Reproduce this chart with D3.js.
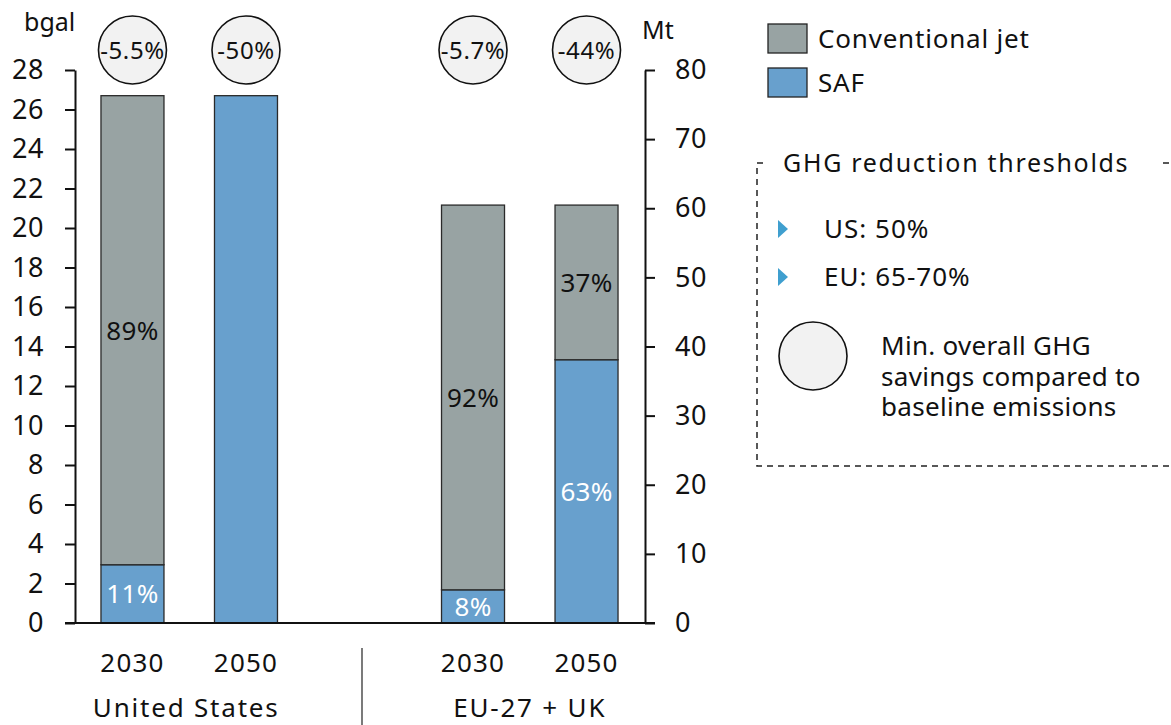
<!DOCTYPE html>
<html><head><meta charset="utf-8">
<script src="https://cdn.jsdelivr.net/npm/d3@7"></script>
<style>
body{margin:0;background:#fff;}
text{font-family:"Noto Sans",sans-serif;fill:#111;}
</style></head>
<body><svg id="c" width="1171" height="725"></svg>
<script>
const slots = ["US2030","US2050","gap","EU2030","EU2050"];
const years = ["2030","2050","2030","2050"];
const barKeys = ["US2030","US2050","EU2030","EU2050"];
const regions = ["United States","EU-27 + UK"];
const saf = [2.95, 26.7, 1.68, 13.33];
const conventional = [23.75, 0, 19.48, 7.83];
const safLabels = ["11%", "", "8%", "63%"];
const convLabels = ["89%", "", "92%", "37%"];
const ghgSavings = ["-5.5%","-50%","-5.7%","-44%"];
const leftTicks = d3.range(0, 29, 2);
const rightTicks = d3.range(0, 81, 10);
const thresholds = ["US: 50%", "EU: 65-70%"];
const circleNote = ["Min. overall GHG", "savings compared to", "baseline emissions"];

const colConv = "#98a3a3", colSaf = "#68a0cd", colTri = "#3f9fcf";
const svg = d3.select("#c");

const x = d3.scaleBand().domain(slots).range([76, 643]).paddingInner(0.445).paddingOuter(0.22);
const y = d3.scaleLinear().domain([0, 28]).range([623, 70]);
const yR = d3.scaleLinear().domain([0, 80]).range([623, 70]);

const rows = barKeys.map((k, i) => ({key: k, saf: saf[i], conventional: conventional[i]}));
const stack = d3.stack().keys(["saf", "conventional"])(rows);
const colors = {saf: colSaf, conventional: colConv};

// bars
stack.forEach(s => {
  svg.append("g").selectAll("rect").data(s.filter(d => d[1] - d[0] > 0)).join("rect")
    .attr("x", d => x(d.data.key)).attr("width", x.bandwidth())
    .attr("y", d => y(d[1])).attr("height", d => y(d[0]) - y(d[1]))
    .attr("fill", colors[s.key]).attr("stroke", "#2a2a2a").attr("stroke-width", 1.3);
});
// segment labels
stack.forEach(s => {
  const labs = s.key === "saf" ? safLabels : convLabels;
  svg.append("g").selectAll("text").data(s).join("text")
    .attr("x", d => x(d.data.key) + x.bandwidth()/2)
    .attr("y", d => (y(d[0]) + y(d[1]))/2).attr("dy", "0.36em")
    .attr("text-anchor", "middle").attr("font-size", 26).attr("letter-spacing", "0.3px")
    .style("fill", s.key === "saf" ? "#fff" : "#111")
    .text((d, i) => labs[i]);
});

// axes
const gl = svg.append("g").attr("transform", "translate(75,0)")
  .call(d3.axisLeft(y).tickValues(leftTicks).tickSize(10).tickSizeOuter(0).tickPadding(21));
const gr = svg.append("g").attr("transform", "translate(645,0)")
  .call(d3.axisRight(yR).tickValues(rightTicks).tickSize(10).tickSizeOuter(0).tickPadding(20));
[gl, gr].forEach(g => {
  g.selectAll("path,line").attr("stroke", "#111").attr("stroke-width", 2);
  g.selectAll("text").attr("font-size", 27).attr("letter-spacing", "0.6px")
    .style("font-family", "Noto Sans").style("fill", "#111");
});
svg.append("line").attr("x1", 65).attr("x2", 655).attr("y1", y(0)).attr("y2", y(0))
  .attr("stroke", "#111").attr("stroke-width", 2);

svg.append("text").attr("x", 24).attr("y", 22).attr("dy", "0.35em").attr("font-size", 25).text("bgal");
svg.append("text").attr("x", 642).attr("y", 30).attr("dy", "0.35em").attr("font-size", 25).text("Mt");

// GHG circles
const cg = svg.append("g").selectAll("g").data(barKeys).join("g")
  .attr("transform", d => `translate(${x(d) + x.bandwidth()/2},50)`);
cg.append("circle").attr("r", 34).attr("fill", "#f2f2f2").attr("stroke", "#111").attr("stroke-width", 1.6);
cg.append("text").attr("text-anchor", "middle").attr("dy", "0.36em").attr("font-size", 24)
  .attr("letter-spacing", "0.6px").text((d, i) => ghgSavings[i]);

// category labels
svg.append("g").selectAll("text").data(barKeys).join("text")
  .attr("x", d => x(d) + x.bandwidth()/2).attr("y", 663).attr("dy", "0.36em")
  .attr("text-anchor", "middle").attr("font-size", 26).attr("letter-spacing", "1.2px")
  .text((d, i) => years[i]);
const groupCenters = [
  (x("US2030") + x("US2050") + x.bandwidth())/2 - 3,
  (x("EU2030") + x("EU2050") + x.bandwidth())/2
];
svg.append("g").selectAll("text").data(regions).join("text")
  .attr("x", (d, i) => groupCenters[i]).attr("y", 708).attr("dy", "0.36em")
  .attr("text-anchor", "middle").attr("font-size", 26).attr("letter-spacing", "1.8px").text(d => d);
const sepX = x("gap") + x.bandwidth()/2 + 2.5;
svg.append("line").attr("x1", sepX).attr("x2", sepX).attr("y1", 648).attr("y2", 725)
  .attr("stroke", "#222").attr("stroke-width", 1.2);

// legend
const legItems = [{k: "Conventional jet", c: colConv}, {k: "SAF", c: colSaf}];
const lg = svg.append("g").selectAll("g").data(legItems).join("g")
  .attr("transform", (d, i) => `translate(768,${24 + i*44})`);
lg.append("rect").attr("width", 39).attr("height", 29).attr("fill", d => d.c)
  .attr("stroke", "#222").attr("stroke-width", 1.3);
lg.append("text").attr("x", 50).attr("y", 15).attr("dy", "0.36em").attr("font-size", 26)
  .attr("letter-spacing", "0.8px").text(d => d.k);

// dashed box
const dash = "6,5";
const bx = svg.append("g").attr("fill", "none").attr("stroke", "#222").attr("stroke-width", 1.5).attr("stroke-dasharray", dash);
bx.append("path").attr("d", "M763,163 L757,163 L757,466 L1180,466");
bx.append("path").attr("d", "M1163,163 L1180,163").attr("stroke-dasharray", null);
svg.append("text").attr("x", 783).attr("y", 163).attr("dy", "0.36em").attr("font-size", 25)
  .attr("letter-spacing", "1.7px").text("GHG reduction thresholds");
const th = svg.append("g").selectAll("g").data(thresholds).join("g")
  .attr("transform", (d, i) => `translate(778,${229 + i*48})`);
th.append("path").attr("d", "M0,-9 L10,0 L0,9 Z").attr("fill", colTri);
th.append("text").attr("x", 46).attr("dy", "0.36em").attr("font-size", 26)
  .attr("letter-spacing", "1px").text(d => d);
svg.append("circle").attr("cx", 813).attr("cy", 356).attr("r", 34)
  .attr("fill", "#f2f2f2").attr("stroke", "#111").attr("stroke-width", 1.6);
svg.append("g").selectAll("text").data(circleNote).join("text")
  .attr("x", 881).attr("y", (d, i) => 346 + i*30.5).attr("dy", "0.36em").attr("font-size", 26)
  .attr("letter-spacing", "0.3px").text(d => d);
</script></body></html>
